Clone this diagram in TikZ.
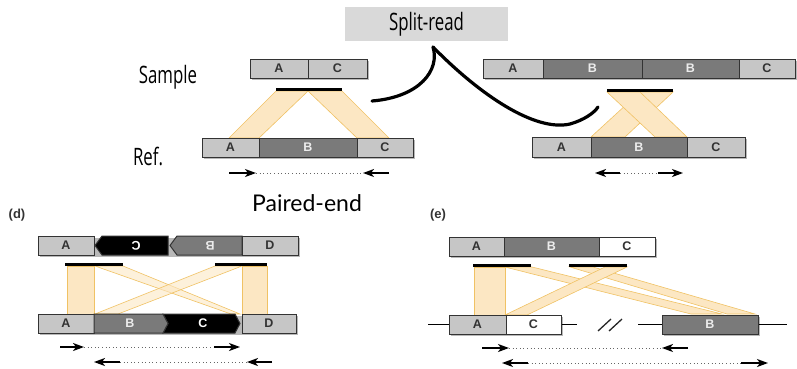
\documentclass[tikz,border=0pt]{standalone}
\usepackage{fontspec}
\setmainfont{Liberation Sans}
\newfontfamily\condfont[FakeStretch=0.70]{Open Sans}
\newfontfamily\geofont{Lato}
\usetikzlibrary{arrows.meta}

\definecolor{lgray}{HTML}{C6C6C6}
\definecolor{dgray}{HTML}{7A7A7A}
\definecolor{outl}{HTML}{333333}
\definecolor{bandfill}{HTML}{FCE7C3}
\definecolor{bandline}{HTML}{F0C264}
\definecolor{tagbg}{HTML}{D9D9D9}

\newcommand\segfont{\bfseries\fontsize{12.5}{12.5}\selectfont}

\tikzset{
  seg/.style={draw=outl, line width=1pt, inner sep=0pt, outer sep=0pt,
    font=\segfont},
  lite/.style={seg, fill=lgray, text=black!80},
  dark/.style={seg, fill=dgray, text=white!85!gray},
  blackseg/.style={seg, fill=black, text=white},
  whiteseg/.style={seg, fill=white, text=black!80},
  shade/.style={fill=black, opacity=0.28},
  bar/.style={line width=3pt, black},
  band/.style={fill=bandfill, draw=bandline, line width=0.6pt},
  thinband/.style={fill=bandfill, fill opacity=0.6, draw=bandline, line width=0.6pt},
  readarrow/.style={line width=1.5pt, -{Stealth[length=11pt,width=8pt,inset=3pt]}},
  span/.style={line width=1pt, dash pattern=on 1pt off 2.6pt, black!60},
  curve/.style={line width=3.2pt, line cap=round},
  chrom/.style={line width=1.6pt, black},
  panel/.style={font=\bfseries\fontsize{13}{13}\selectfont, text=black!80},
  side/.style={font=\condfont\fontsize{24}{24}\selectfont},
}

% block: name, style, x-left, x-right, y-top, y-bottom, label
\newcommand\blk[7]{%
  \node[#2, minimum width={(#4-#3)*1pt}, minimum height={(#6-#5)*1pt}]
    (#1) at ({(#3+#4)/2},{(#5+#6)/2}) {#7};}
% shadow behind a row of blocks: x-left, x-right, y-top, y-bottom
\newcommand\rowshade[4]{\fill[shade] (#1+1.6,#3+1.6) rectangle (#2+1.6,#4+1.6);}

\begin{document}
\begin{tikzpicture}[x=1pt,y=-1pt]
\useasboundingbox (0,0) rectangle (797,368);

% ---------------- split-read label and pointers ----------------
\node[fill=tagbg, minimum width=163pt, minimum height=34pt, inner sep=0pt,
  font=\condfont\fontsize{24}{24}\selectfont] (sr) at (426.5,24) {Split-read};
\coordinate (srfoot) at (433,47);
\coordinate (dele) at (372,101);
\coordinate (dupe) at (598,107);
\draw[curve] (srfoot) .. controls (440,70) and (420,97) .. (dele);
\draw[curve] (srfoot) .. controls (480,95) and (535,132) .. (570,124)
  .. controls (584,120) and (594,113) .. (dupe);

\node[side, anchor=center] (lsample) at (168,77) {Sample};
\node[side, anchor=center] (lref) at (148,156) {Ref.};

% ---------------- deletion ----------------
\filldraw[band] (276,91) -- (308,91) -- (259,138) -- (229,138) -- cycle;
\filldraw[band] (308,91) -- (342,91) -- (389,138) -- (357,138) -- cycle;
\rowshade{250}{367}{59}{78}
\blk{dsA}{lite}{250}{308}{59}{78}{A}
\blk{dsC}{lite}{308}{367}{59}{78}{C}
\draw[bar] (276,89.5) coordinate (dbarL) -- (342,89.5) coordinate (dbarR);
\rowshade{202}{413}{138}{157}
\blk{drA}{lite}{202}{259}{138}{157}{A}
\blk{drB}{dark}{259}{357}{138}{157}{B}
\blk{drC}{lite}{357}{413}{138}{157}{C}
\coordinate (da1) at (229,173); \coordinate (da2) at (256,173);
\coordinate (da3) at (363,173); \coordinate (da4) at (389,173);
\draw[span] (da2) -- (da3);
\draw[readarrow] (da1) -- (da2);
\draw[readarrow] (da4) -- (da3);

% ---------------- tandem duplication ----------------
\filldraw[band] (640,92) -- (673,92) -- (625,137) -- (591,137) -- cycle;
\filldraw[band] (607,92) -- (640,92) -- (687,137) -- (655,137) -- cycle;
\rowshade{483}{795}{59}{78}
\blk{tsA}{lite}{483}{543}{59}{78}{A}
\blk{tsB1}{dark}{543}{642}{59}{78}{B}
\blk{tsB2}{dark}{642}{739}{59}{78}{B}
\blk{tsC}{lite}{739}{795}{59}{78}{C}
\draw[bar] (607,90) coordinate (tbarL) -- (673,90) coordinate (tbarR);
\rowshade{532}{745}{137}{157}
\blk{trA}{lite}{532}{591}{137}{157}{A}
\blk{trB}{dark}{591}{687}{137}{157}{B}
\blk{trC}{lite}{687}{745}{137}{157}{C}
\coordinate (ta1) at (620,173); \coordinate (ta2) at (595,173);
\coordinate (ta3) at (658,173); \coordinate (ta4) at (683,173);
\draw[span] (ta1) -- (ta3);
\draw[readarrow] (ta1) -- (ta2);
\draw[readarrow] (ta3) -- (ta4);

\node[font=\geofont\fontsize{23}{23}\selectfont] (pe) at (307,203) {Paired-end};

% ---------------- (d) inversion ----------------
\node[panel] (pd) at (17,215) {(d)};
\filldraw[band] (67,266) -- (94,266) -- (94,314) -- (67,314) -- cycle;
\filldraw[band] (242,266) -- (267,266) -- (267,314) -- (242,314) -- cycle;
\filldraw[thinband] (95,266) -- (123,266) -- (240,314) -- (231,314) -- cycle;
\filldraw[thinband] (215,266) -- (242,266) -- (118,314) -- (95,314) -- cycle;
% sample row
\rowshade{38}{298}{236}{255}
\blk{isA}{lite}{38}{94}{236}{255}{A}
\filldraw[draw=outl, line width=1pt, fill=black]
  (95,245.5) -- (102,236) -- (168,236) -- (168,255) -- (102,255) -- cycle;
\node[text=white, font=\segfont, rotate=180] (isC) at (136,245.5) {C};
\filldraw[draw=outl, line width=1pt, fill=dgray]
  (170,245.5) -- (177,236) -- (242,236) -- (242,255) -- (177,255) -- cycle;
\node[text=white!85!gray, font=\segfont, rotate=180] (isB) at (210,245.5) {B};
\blk{isD}{lite}{242}{298}{236}{255}{D}
\draw[bar] (65,264) coordinate (ibar1L) -- (123,264) coordinate (ibar1R);
\draw[bar] (215,264) coordinate (ibar2L) -- (267,264) coordinate (ibar2R);
% reference row
\rowshade{38}{296}{314}{333}
\blk{irA}{lite}{38}{94}{314}{333}{A}
\filldraw[draw=outl, line width=1pt, fill=black]
  (163,314) -- (235,314) -- (240,323.5) -- (235,333) -- (163,333) -- (168,323.5) -- cycle;
\node[text=white, font=\segfont] (irC) at (203,323.5) {C};
\filldraw[draw=outl, line width=1pt, fill=dgray]
  (94,314) -- (163,314) -- (168,323.5) -- (163,333) -- (94,333) -- cycle;
\node[text=white!85!gray, font=\segfont] (irB) at (130,323.5) {B};
\blk{irD}{lite}{242}{296}{314}{333}{D}
% read pairs
\coordinate (ia1) at (60,347); \coordinate (ia2) at (84,347);
\coordinate (ia3) at (214,347); \coordinate (ia4) at (240,347);
\draw[span] (ia2) -- (ia3);
\draw[readarrow] (ia1) -- (ia2);
\draw[readarrow] (ia3) -- (ia4);
\coordinate (ib1) at (120,362); \coordinate (ib2) at (94,362);
\coordinate (ib3) at (272,362); \coordinate (ib4) at (247,362);
\draw[span] (ib1) -- (ib4);
\draw[readarrow] (ib1) -- (ib2);
\draw[readarrow] (ib3) -- (ib4);

% ---------------- (e) translocation ----------------
\node[panel] (pe2) at (438,215) {(e)};
\filldraw[band] (474,267) -- (505,267) -- (505,315) -- (474,315) -- cycle;
\filldraw[band] (505,267) -- (532,267) -- (722,314) -- (691,314) -- cycle;
\filldraw[band] (570,267) -- (593,267) -- (755,314) -- (727,314) -- cycle;
\filldraw[band] (605,267) -- (627,267) -- (527,315) -- (505,315) -- cycle;
% sample row
\rowshade{449}{655}{237}{256}
\blk{esA}{lite}{449}{504}{237}{256}{A}
\blk{esB}{dark}{504}{599}{237}{256}{B}
\blk{esC}{whiteseg}{599}{655}{237}{256}{C}
\draw[bar] (473,265.5) coordinate (ebar1L) -- (531,265.5) coordinate (ebar1R);
\draw[bar] (569,265.5) coordinate (ebar2L) -- (627,265.5) coordinate (ebar2R);
% reference row with flanking chromosome
\coordinate (ec1) at (428,324.5); \coordinate (ec2) at (577,324.5);
\coordinate (ec3) at (638,324.5); \coordinate (ec4) at (787,324.5);
\draw[chrom] (ec1) -- (ec2);
\draw[chrom] (ec3) -- (ec4);
\rowshade{449}{561}{315}{334}
\blk{erA}{lite}{449}{506}{315}{334}{A}
\blk{erC}{whiteseg}{506}{561}{315}{334}{C}
\rowshade{662}{758}{315}{334}
\blk{erB}{dark}{662}{758}{315}{334}{B}
\draw[line width=1.3pt, black!85] (598,331) -- (611,319);
\draw[line width=1.3pt, black!85] (609,331) -- (622,319);
% read pairs
\coordinate (ea1) at (482,348); \coordinate (ea2) at (509,348);
\coordinate (ea3) at (688,348); \coordinate (ea4) at (662,348);
\draw[span] (ea2) -- (ea4);
\draw[readarrow] (ea1) -- (ea2);
\draw[readarrow] (ea3) -- (ea4);
\coordinate (eb1) at (528,363); \coordinate (eb2) at (502,363);
\coordinate (eb3) at (741,363); \coordinate (eb4) at (768,363);
\draw[span] (eb1) -- (eb3);
\draw[readarrow] (eb1) -- (eb2);
\draw[readarrow] (eb3) -- (eb4);
\end{tikzpicture}
\end{document}
